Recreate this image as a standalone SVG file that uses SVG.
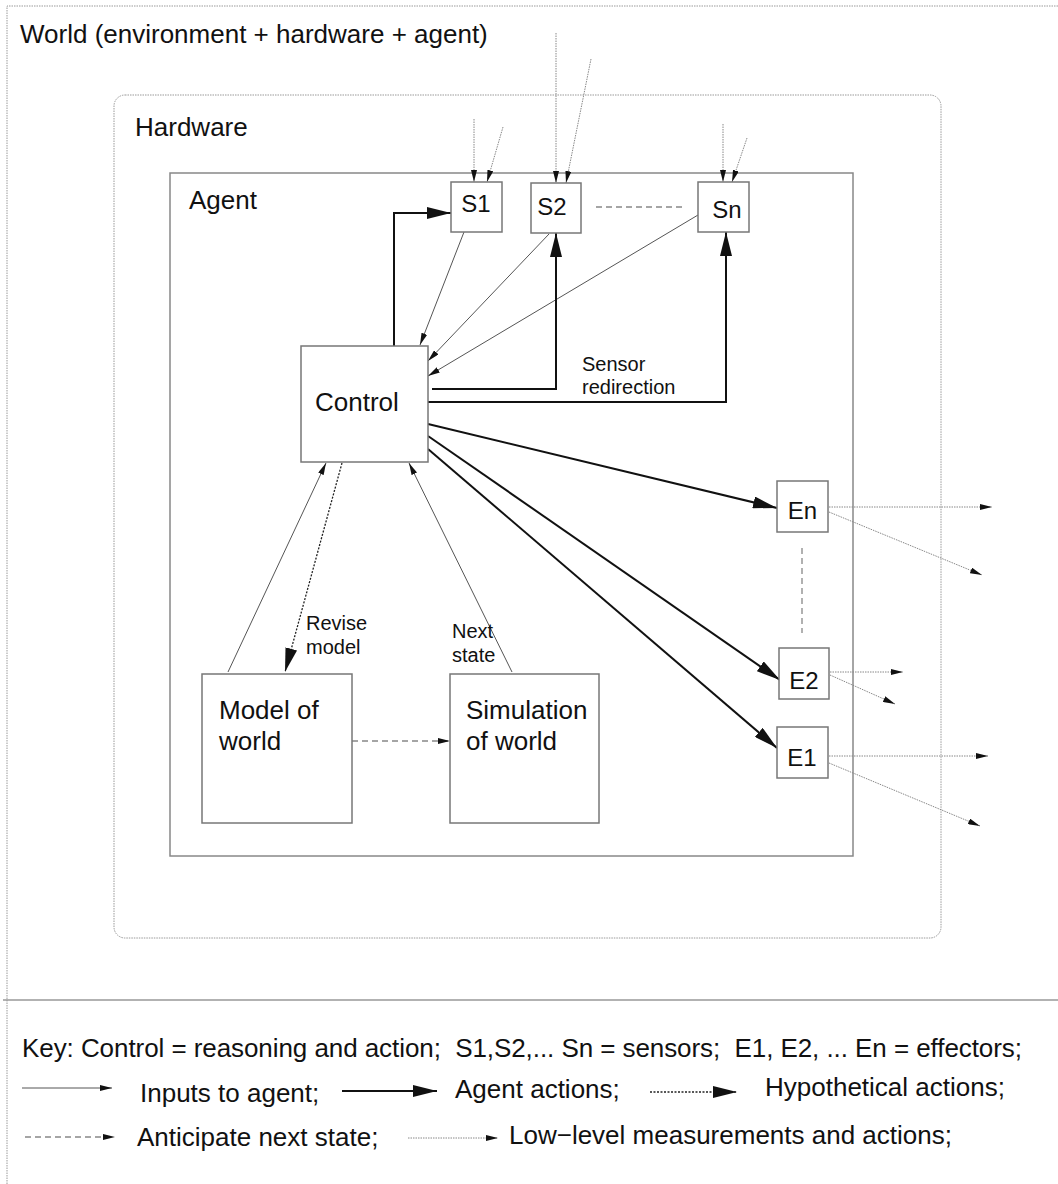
<svg xmlns="http://www.w3.org/2000/svg" width="1058" height="1184" viewBox="0 0 1058 1184">
<style>
text{font-family:"Liberation Sans",Arial,Helvetica,sans-serif;fill:#111}
.big{font-size:26px}
.lbl{font-size:24px}
.sm{font-size:20px}
.box{fill:#fff;stroke:#777;stroke-width:1.5}
.thin{fill:none;stroke:#555;stroke-width:1}
.thick{fill:none;stroke:#111;stroke-width:2}
.hyp{fill:none;stroke:#222;stroke-width:1.3;stroke-dasharray:2 1.5}
.dash{fill:none;stroke:#888;stroke-width:1.3;stroke-dasharray:6 4}
.dot{fill:none;stroke:#888;stroke-width:1;stroke-dasharray:1.5 1}
</style>
<defs>
<marker id="aS" viewBox="0 0 12 6" refX="12" refY="3" markerWidth="12" markerHeight="6" markerUnits="userSpaceOnUse" orient="auto"><path d="M0,0 L12,3 L0,6 z" fill="#111"/></marker>
<marker id="aL" viewBox="0 0 24 12" refX="24" refY="6" markerWidth="24" markerHeight="12" markerUnits="userSpaceOnUse" orient="auto"><path d="M0,0 L24,6 L0,12 z" fill="#111"/></marker>
</defs>
<rect width="1058" height="1184" fill="#fff"/>

<g id="world">
<path d="M7,1184 V6 H1058" fill="none" stroke="#999" stroke-width="1" stroke-dasharray="1.5 1"/>
<text class="big" x="20" y="43">World (environment + hardware + agent)</text>
</g>
<g id="hardware">
<rect x="114" y="95" width="827" height="843" rx="11" fill="none" stroke="#999" stroke-width="1" stroke-dasharray="1.5 1"/>
<text class="big" x="135" y="136">Hardware</text>
</g>
<g id="agent">
<rect x="170" y="173" width="683" height="683" fill="none" stroke="#888" stroke-width="1.5"/>
<text class="big" x="189" y="209">Agent</text>
</g>
<line id="separator" x1="3" y1="1000" x2="1058" y2="1000" stroke="#999" stroke-width="1.5"/>

<g id="connectors">
<!-- sensor low-level inputs -->
<line class="dot" x1="474" y1="119" x2="474" y2="182" marker-end="url(#aS)"/>
<line class="dot" x1="503" y1="127" x2="487" y2="182" marker-end="url(#aS)"/>
<line class="dot" x1="556" y1="33" x2="556" y2="183" marker-end="url(#aS)"/>
<line class="dot" x1="591" y1="59" x2="566" y2="183" marker-end="url(#aS)"/>
<line class="dot" x1="723" y1="124" x2="723" y2="182" marker-end="url(#aS)"/>
<line class="dot" x1="747" y1="138" x2="732" y2="182" marker-end="url(#aS)"/>
<!-- sensor to control inputs -->
<line class="thin" x1="464" y1="232" x2="420" y2="345" marker-end="url(#aS)"/>
<line class="thin" x1="549" y1="234" x2="428" y2="361" marker-end="url(#aS)"/>
<line class="thin" x1="698" y1="215" x2="428" y2="376" marker-end="url(#aS)"/>
<!-- control to sensors -->
<path class="thick" d="M394,346 V213 H451" marker-end="url(#aL)"/>
<path class="thick" d="M432,389 H556 V233" marker-end="url(#aL)"/>
<path class="thick" d="M428,402 H726 V232" marker-end="url(#aL)"/>
<!-- control to effectors -->
<line class="thick" x1="428" y1="424" x2="777" y2="508" marker-end="url(#aL)"/>
<line class="thick" x1="428" y1="436" x2="780" y2="680" marker-end="url(#aL)"/>
<line class="thick" x1="428" y1="449" x2="777" y2="748" marker-end="url(#aL)"/>
<!-- effector outputs -->
<line class="dot" x1="829" y1="507" x2="992" y2="507" marker-end="url(#aS)"/>
<line class="dot" x1="829" y1="512" x2="982" y2="575" marker-end="url(#aS)"/>
<line class="dot" x1="830" y1="672" x2="903" y2="672" marker-end="url(#aS)"/>
<line class="dot" x1="830" y1="675" x2="895" y2="704" marker-end="url(#aS)"/>
<line class="dot" x1="829" y1="756" x2="988" y2="756" marker-end="url(#aS)"/>
<line class="dot" x1="829" y1="763" x2="980" y2="826" marker-end="url(#aS)"/>
<!-- dashed continuation -->
<line class="dash" x1="596" y1="207" x2="682" y2="207"/>
<line class="dash" x1="802" y1="548" x2="802" y2="633"/>
<!-- model / simulation -->
<line class="thin" x1="228" y1="672" x2="326" y2="463" marker-end="url(#aS)"/>
<line class="thin" x1="512" y1="672" x2="409" y2="463" marker-end="url(#aS)"/>
<line class="hyp" x1="342" y1="463" x2="285" y2="672" marker-end="url(#aL)"/>
<line class="dash" x1="352" y1="741" x2="450" y2="741" marker-end="url(#aS)"/>
<text class="sm" x="582" y="371">Sensor</text>
<text class="sm" x="582" y="394">redirection</text>
<text class="sm" x="306" y="630">Revise</text>
<text class="sm" x="306" y="654">model</text>
<text class="sm" x="452" y="638">Next</text>
<text class="sm" x="452" y="662">state</text>
</g>

<g id="S1"><rect class="box" x="451" y="182" width="51" height="50"/><text class="lbl" x="476" y="212" text-anchor="middle">S1</text></g>
<g id="S2"><rect class="box" x="531" y="183" width="50" height="50"/><text class="lbl" x="552" y="215" text-anchor="middle">S2</text></g>
<g id="Sn"><rect class="box" x="698" y="182" width="51" height="50"/><text class="lbl" x="727" y="218" text-anchor="middle">Sn</text></g>
<g id="control"><rect class="box" x="301" y="346" width="127" height="116"/><text class="big" x="315" y="411">Control</text></g>
<g id="En"><rect class="box" x="777" y="481" width="51" height="51"/><text class="lbl" x="802.5" y="519" text-anchor="middle">En</text></g>
<g id="E2"><rect class="box" x="779" y="648" width="50" height="51"/><text class="lbl" x="804" y="689" text-anchor="middle">E2</text></g>
<g id="E1"><rect class="box" x="777" y="727" width="51" height="51"/><text class="lbl" x="802" y="766" text-anchor="middle">E1</text></g>
<g id="model"><rect class="box" x="202" y="674" width="150" height="149"/><text class="big" x="219" y="719">Model of</text><text class="big" x="219" y="750">world</text></g>
<g id="simulation"><rect class="box" x="450" y="674" width="149" height="149"/><text class="big" x="466" y="719">Simulation</text><text class="big" x="466" y="750">of world</text></g>

<g id="key">
<text class="big" x="22" y="1057" xml:space="preserve" textLength="1000" lengthAdjust="spacing">Key: Control = reasoning and action;  S1,S2,... Sn = sensors;  E1, E2, ... En = effectors;</text>
<line class="thin" x1="22" y1="1088" x2="112" y2="1088" marker-end="url(#aS)"/>
<text class="big" x="140" y="1102">Inputs to agent;</text>
<line class="thick" x1="342" y1="1091" x2="437" y2="1091" marker-end="url(#aL)"/>
<text class="big" x="455" y="1098">Agent actions;</text>
<line class="hyp" x1="650" y1="1092" x2="737" y2="1092" marker-end="url(#aL)"/>
<text class="big" x="765" y="1096">Hypothetical actions;</text>
<line class="dash" x1="25" y1="1137" x2="115" y2="1137" marker-end="url(#aS)"/>
<text class="big" x="137" y="1146">Anticipate next state;</text>
<line class="dot" x1="408" y1="1138" x2="498" y2="1138" marker-end="url(#aS)"/>
<text class="big" x="509" y="1144">Low−level measurements and actions;</text>
</g>
</svg>
